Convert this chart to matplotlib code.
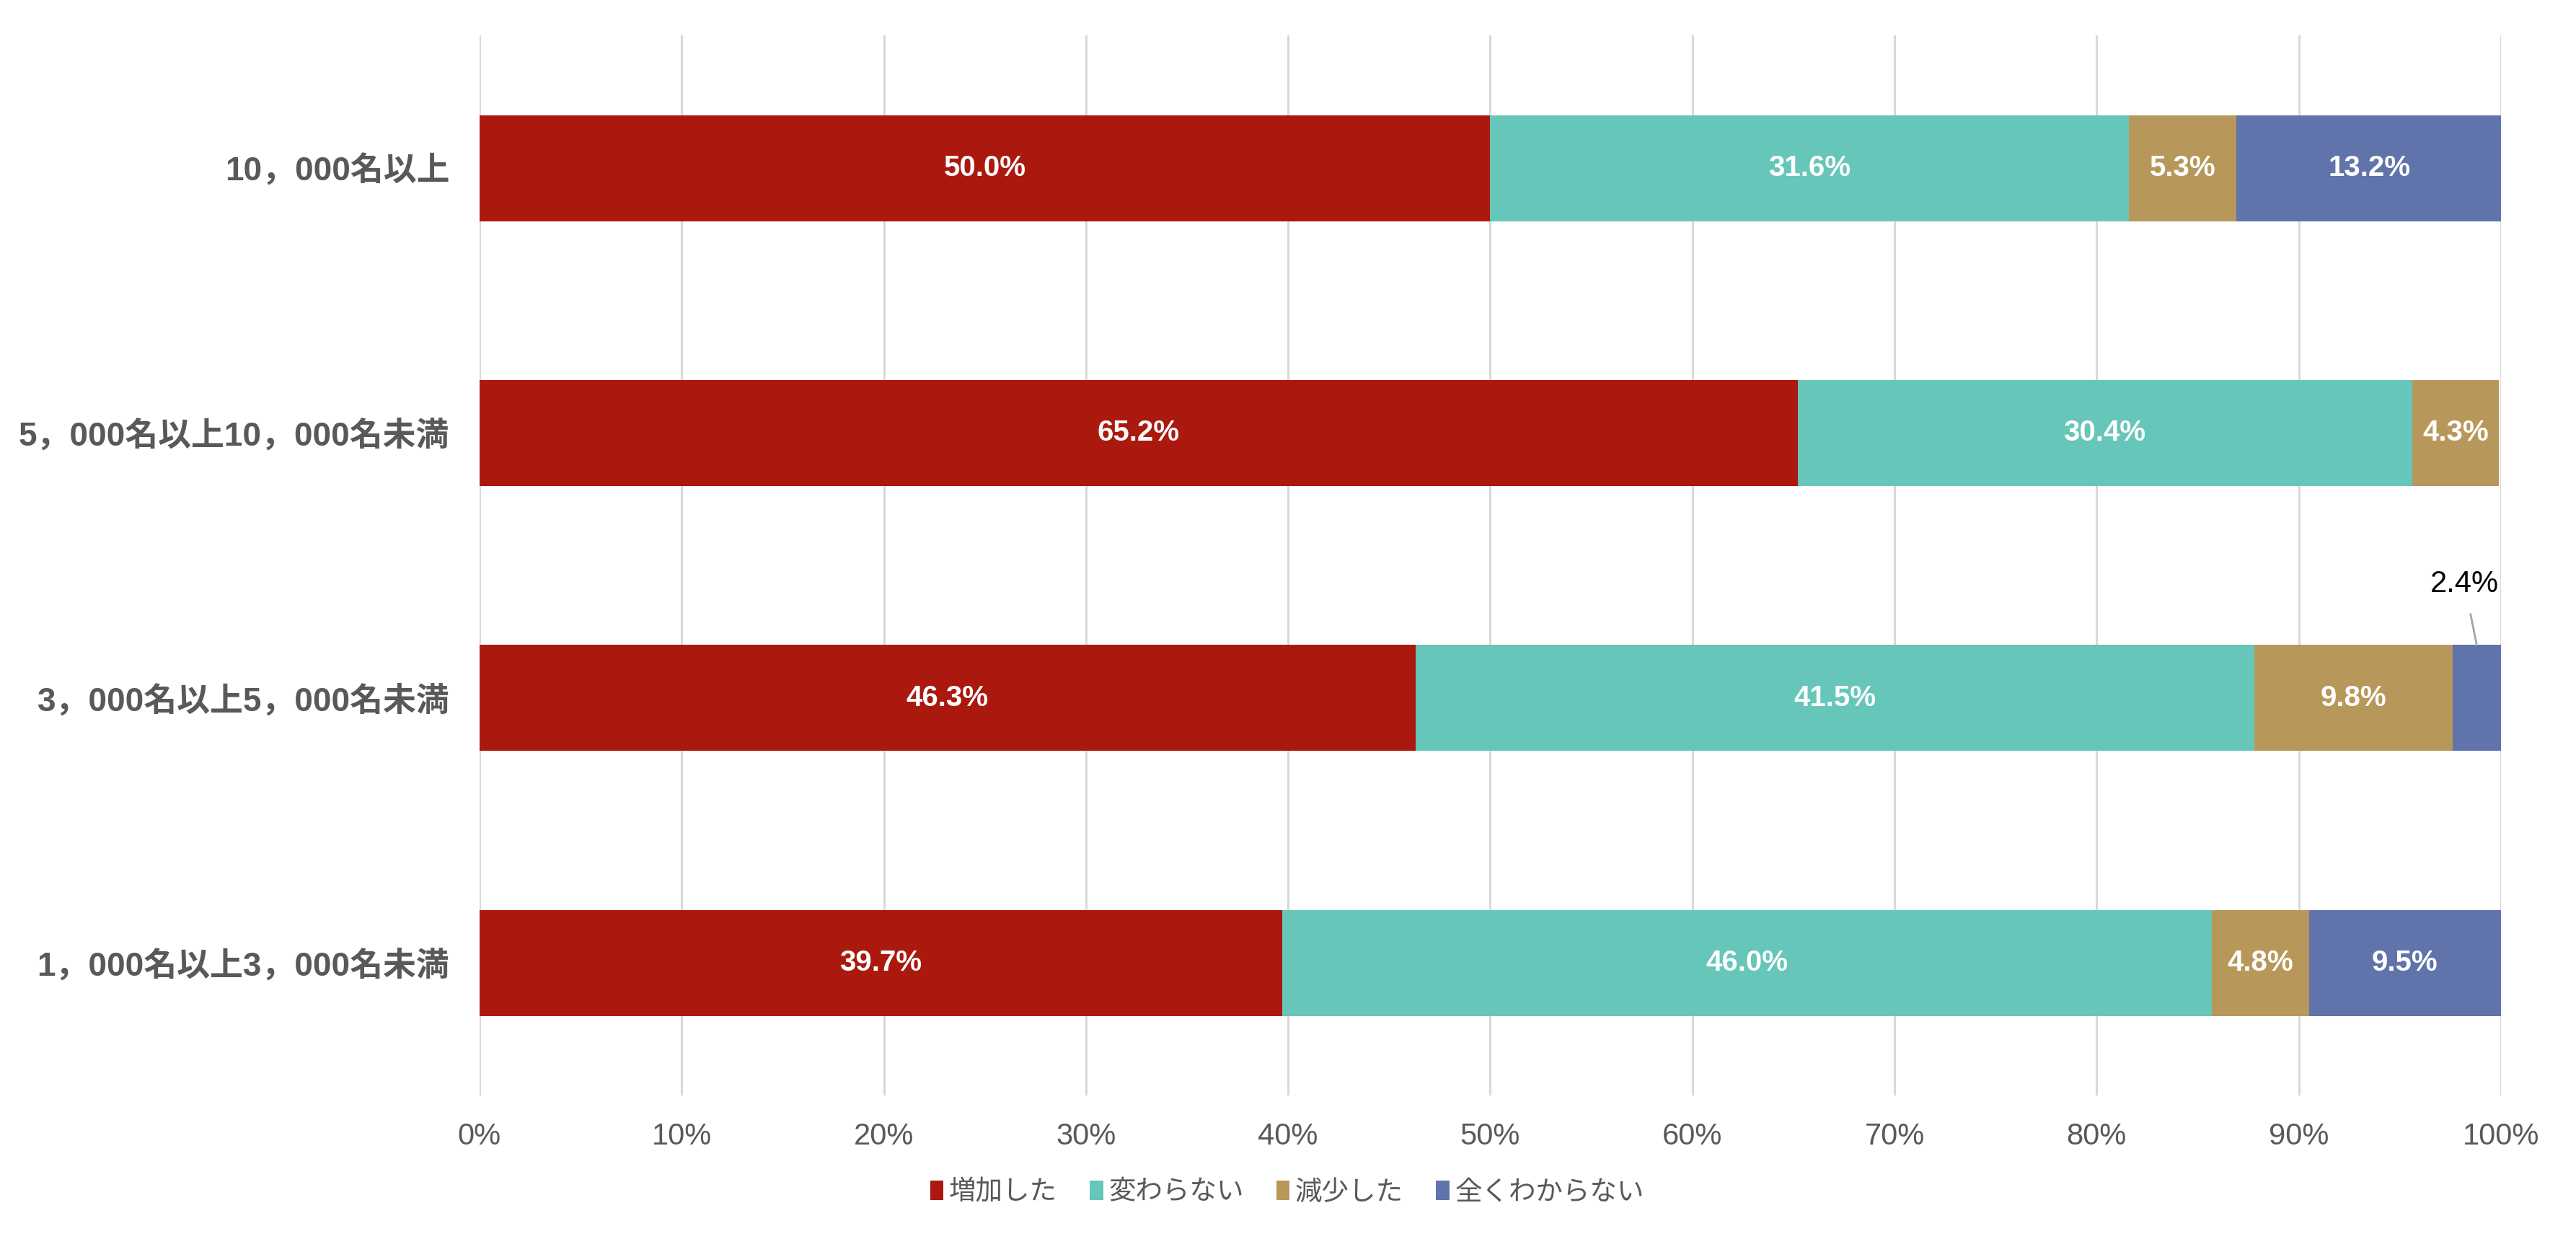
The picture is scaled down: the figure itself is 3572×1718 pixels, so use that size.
import matplotlib
matplotlib.use("Agg")
import matplotlib.pyplot as plt
import numpy as np

categories = ["1，000名以上3，000名未満", "3，000名以上5，000名未満",
              "5，000名以上10，000名未満", "10，000名以上"]
series_names = ["増加した", "変わらない", "減少した", "全くわからない"]
inc = [39.7, 46.3, 65.2, 50.0]
same = [46.0, 41.5, 30.4, 31.6]
dec = [4.8, 9.8, 4.3, 5.3]
unknown = [9.5, 2.4, 0.0, 13.2]
colors = ["#AB190E", "#66C6B9", "#B8985A", "#6173AB"]
xticks = list(range(0, 101, 10))
xticklabels = [f"{t}%" for t in xticks]

FAM = ["Liberation Sans", "Noto Sans CJK JP", "DejaVu Sans"]
plt.rcParams['font.family'] = FAM
GRAY = "#595959"

fig = plt.figure(figsize=(35.73, 17.18), dpi=100)
ax = fig.add_axes([0.1861, 0.1160, 0.9706 - 0.1861, 0.9712 - 0.1160])

data = [inc, same, dec, unknown]
y = np.arange(len(categories))
left = np.zeros(len(categories))
bars_all = []
for vals, col, name in zip(data, colors, series_names):
    vals = np.array(vals)
    bars = ax.barh(y, vals, left=left, height=0.4, color=col, label=name, zorder=2)
    bars_all.append((bars, vals, left.copy()))
    left = left + vals

# data labels
for si, (bars, vals, lefts) in enumerate(bars_all):
    for i, v in enumerate(vals):
        if v <= 0:
            continue
        if v < 3:
            cx = lefts[i] + v / 2
            ax.annotate(f"{v:.1f}%", xy=(cx, y[i] + 0.2), xytext=(cx - 0.6, y[i] + 0.43),
                        ha="center", va="center", fontsize=30, color="black",
                        arrowprops=dict(arrowstyle="-", color="#A6A6A6", lw=2,
                                        shrinkA=14, shrinkB=0), zorder=5)
        else:
            ax.text(lefts[i] + v / 2, y[i], f"{v:.1f}%", ha="center", va="center",
                    fontsize=29, fontweight="bold", color="white", zorder=3)

ax.set_xlim(0, 100)
ax.set_ylim(-0.5, 3.5)
ax.set_xticks(xticks)
ax.set_xticklabels(xticklabels, fontsize=30, color=GRAY)
ax.set_yticks(y)
ax.set_yticklabels(categories, fontsize=33, fontweight="bold", color=GRAY)
ax.tick_params(axis="both", length=0)
ax.tick_params(axis="x", pad=27)
ax.tick_params(axis="y", pad=30)
ax.grid(axis="x", color="#D9D9D9", linewidth=2.2, zorder=0)
ax.set_axisbelow(True)
for s in ax.spines.values():
    s.set_visible(False)

leg = fig.legend(loc="center", bbox_to_anchor=(0.4995, 0.0375), ncol=4, frameon=False,
                 fontsize=27, handlelength=0.5, handleheight=0.75, handletextpad=0.2,
                 columnspacing=1.2)
for t in leg.get_texts():
    t.set_color(GRAY)

fig.savefig("out.png", dpi=100, facecolor="white")
